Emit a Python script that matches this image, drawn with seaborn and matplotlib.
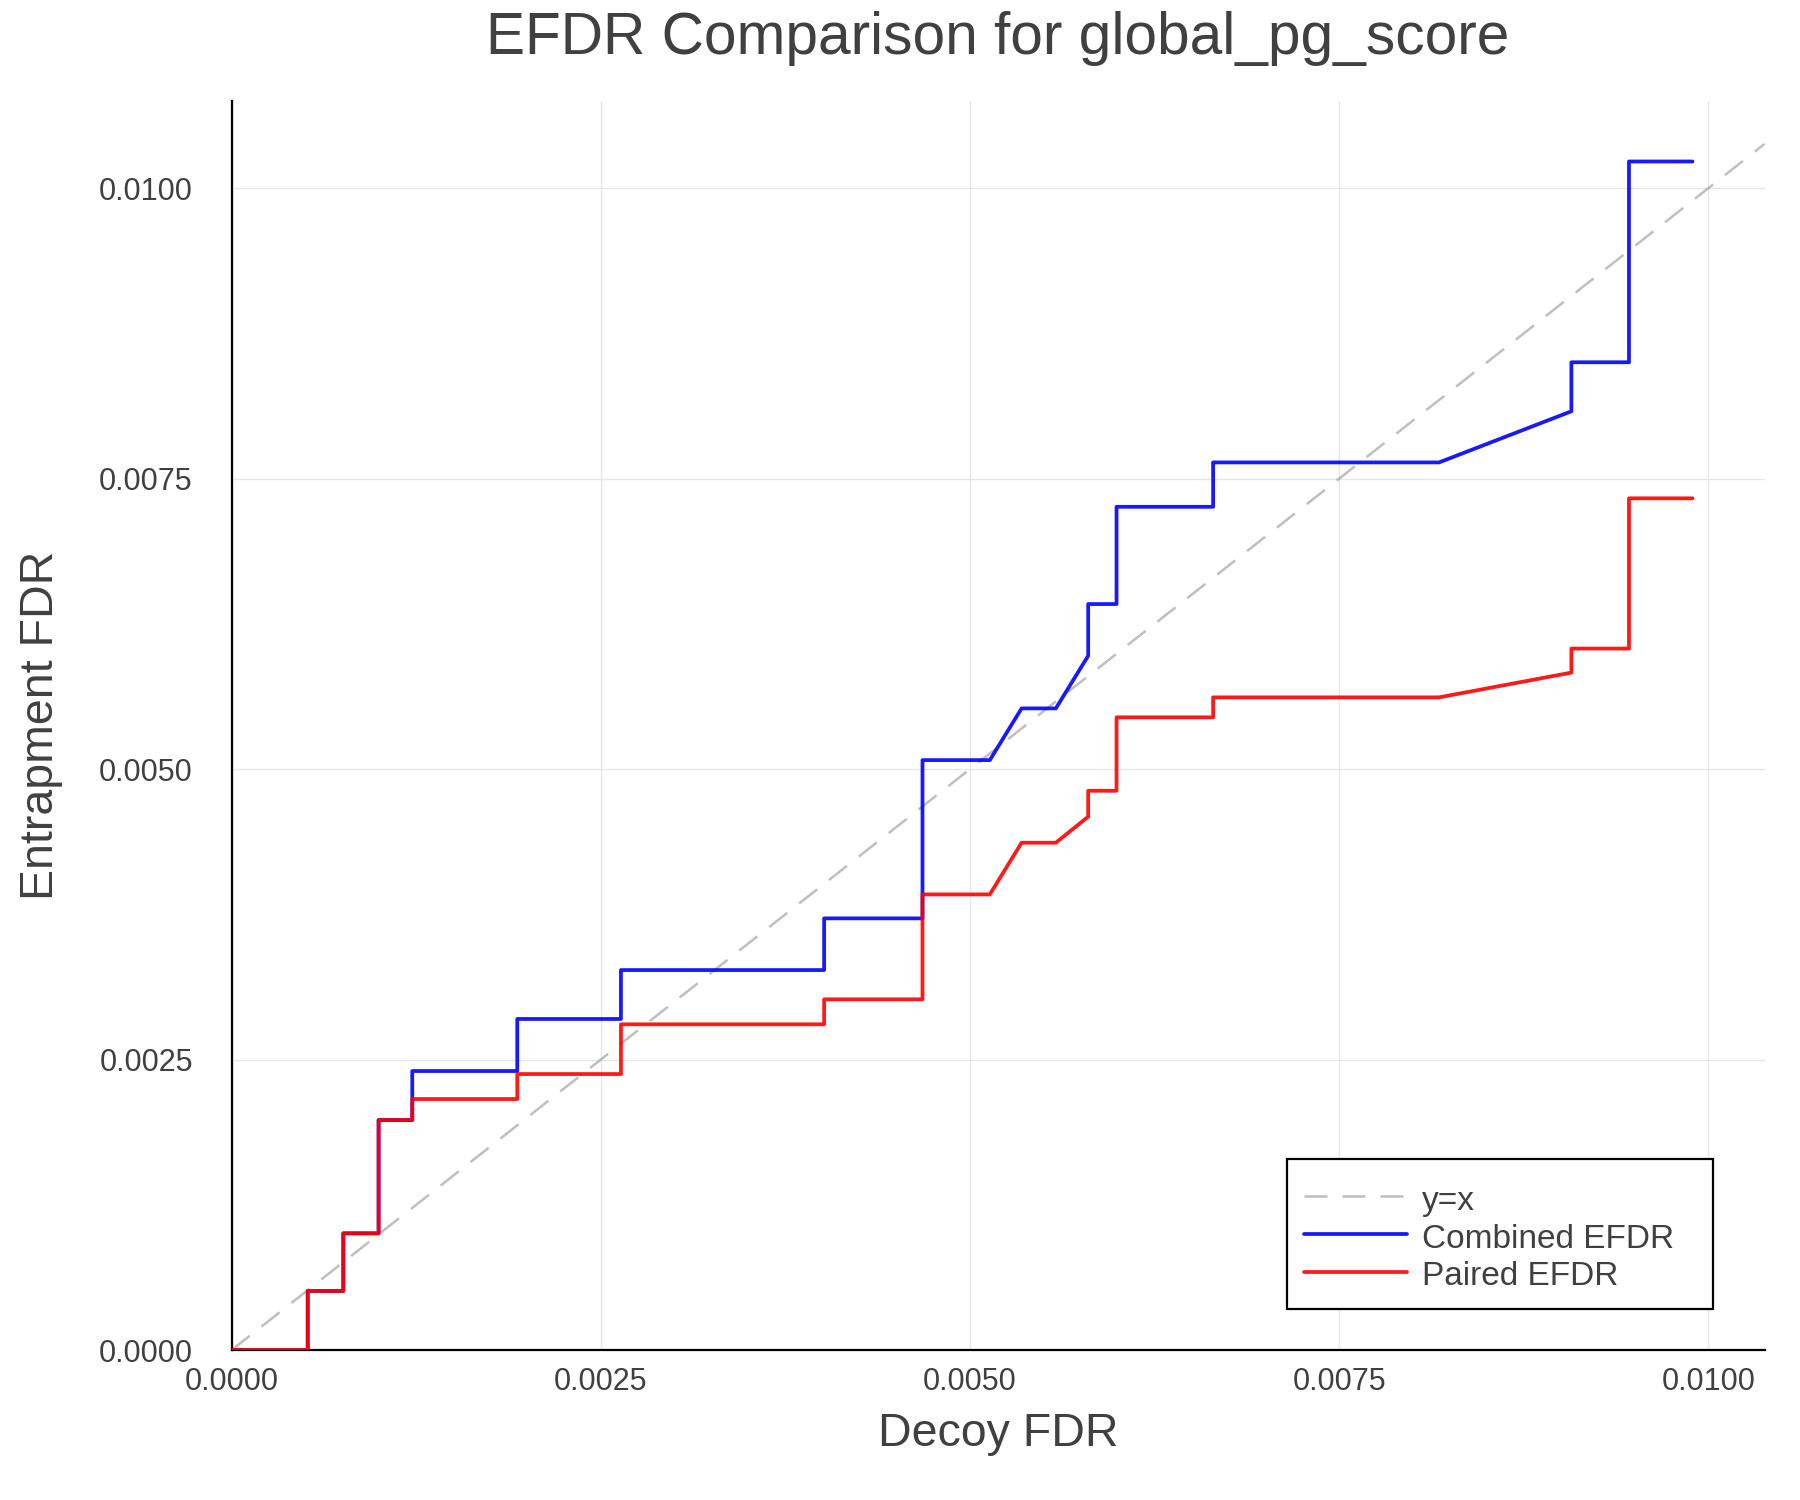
import matplotlib
matplotlib.use("Agg")
import matplotlib.pyplot as plt
import seaborn as sns
import pandas as pd

# ---- data ----
decoy_fdr = [0.0, 0.000515, 0.000515, 0.000756, 0.000756, 0.000995, 0.000995,
             0.001223, 0.001223, 0.001934, 0.001934, 0.002636, 0.002636,
             0.004012, 0.004012, 0.004678, 0.004678, 0.005134, 0.005349,
             0.005581, 0.005800, 0.005800, 0.005992, 0.005992, 0.006646,
             0.006646, 0.008176, 0.009072, 0.009072, 0.009462, 0.009462,
             0.009892]
combined_efdr = [0.0, 0.0, 0.000508, 0.000508, 0.001004, 0.001004, 0.001979,
                 0.001979, 0.002401, 0.002401, 0.002849, 0.002849, 0.003270,
                 0.003270, 0.003715, 0.003715, 0.005077, 0.005077, 0.005522,
                 0.005522, 0.005975, 0.006420, 0.006420, 0.007257, 0.007257,
                 0.007639, 0.007639, 0.008079, 0.008501, 0.008501, 0.010229,
                 0.010229]
paired_efdr = [0.0, 0.0, 0.000508, 0.000508, 0.001004, 0.001004, 0.001979,
               0.001979, 0.002160, 0.002160, 0.002375, 0.002375, 0.002803,
               0.002803, 0.003018, 0.003018, 0.003921, 0.003921, 0.004366,
               0.004366, 0.004590, 0.004813, 0.004813, 0.005445, 0.005445,
               0.005617, 0.005617, 0.005830, 0.006037, 0.006037, 0.007330,
               0.007330]
tick_values = [0.0, 0.0025, 0.005, 0.0075, 0.01]
tick_labels = ["0.0000", "0.0025", "0.0050", "0.0075", "0.0100"]

title = "EFDR Comparison for global_pg_score"
xlabel = "Decoy FDR"
ylabel = "Entrapment FDR"

sns.set_theme(style="white")
plt.rcParams["font.family"] = ["Liberation Sans", "DejaVu Sans"]
txt = "#404040"

fig = plt.figure(figsize=(18, 15), dpi=100)
fig.subplots_adjust(left=0.1287, right=0.9803, bottom=0.1, top=0.9327)
ax = fig.add_subplot(111)

df = pd.DataFrame({"x": decoy_fdr, "combined": combined_efdr, "paired": paired_efdr})

lw_d = 1.8
ax.axline((0, 0), slope=1, color="gray", alpha=0.5, linewidth=lw_d,
          linestyle=(0, (9.2, 6.0)), label="y=x", zorder=2)
sns.lineplot(data=df, x="x", y="combined", sort=False, estimator=None,
             color="blue", alpha=0.9, linewidth=2.7, label="Combined EFDR", ax=ax, zorder=3)
sns.lineplot(data=df, x="x", y="paired", sort=False, estimator=None,
             color="red", alpha=0.9, linewidth=2.7, label="Paired EFDR", ax=ax, zorder=4)

ax.set_xlim(0, 0.01038)
ax.set_ylim(0, 0.01075)
ax.set_xticks(tick_values)
ax.set_xticklabels(tick_labels)
ax.set_yticks(tick_values)
ax.set_yticklabels(tick_labels)

ax.grid(True, color="#e6e6e6", lw=1.0, zorder=0)
ax.set_axisbelow(True)
for s in ["top", "right"]:
    ax.spines[s].set_visible(False)
for s in ["left", "bottom"]:
    ax.spines[s].set_color("black")
    ax.spines[s].set_linewidth(1.6)

ax.tick_params(axis="both", direction="in", length=10, width=1.6, color="black",
               labelsize=22, labelcolor=txt)
ax.tick_params(axis="x", pad=12)
ax.tick_params(axis="y", pad=28)

ax.set_title(title, fontsize=42.2, color=txt, pad=34)
ax.set_xlabel(xlabel, fontsize=33.5, color=txt, labelpad=11)
ax.set_ylabel(ylabel, fontsize=33.5, color=txt, labelpad=26)

leg = ax.legend(loc="lower left", bbox_to_anchor=(0.6885, 0.0328, 0.2779, 0.1),
                mode="expand", borderaxespad=0,
                fontsize=24, frameon=True, fancybox=False, framealpha=1,
                edgecolor="black", handlelength=3.1, handletextpad=0.45,
                handleheight=1.13, labelspacing=0.09, borderpad=0.5,
                title=" ", title_fontsize=3)
leg.get_frame().set_linewidth(1.6)
for t in leg.get_texts():
    t.set_color(txt)

fig.savefig("out.png", dpi=100)
